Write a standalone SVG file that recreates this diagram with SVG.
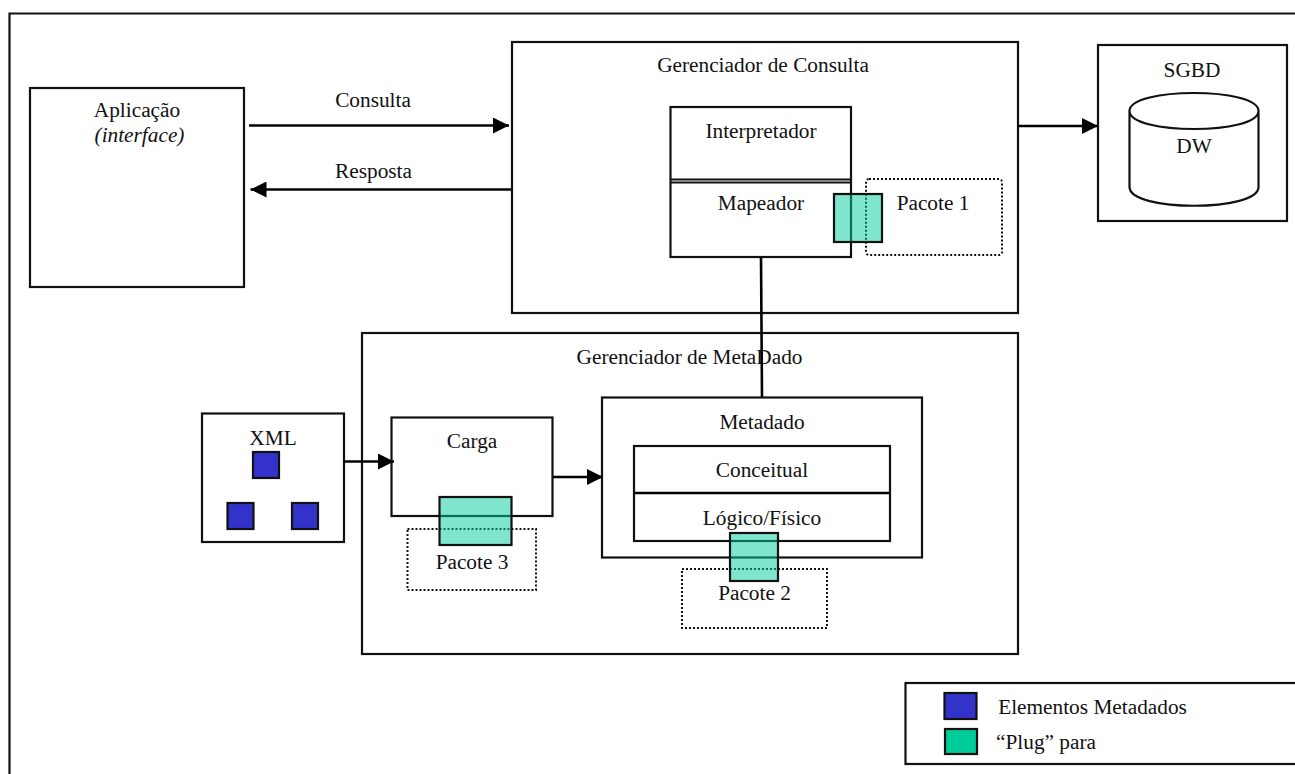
<svg xmlns="http://www.w3.org/2000/svg" width="1295" height="774" viewBox="0 0 1295 774">
<style>
text{font-family:"Liberation Serif","Times New Roman",serif;font-size:21.3px;fill:#111;text-anchor:middle}
.b{fill:#fff;stroke:#111;stroke-width:2.2}
.n{fill:none;stroke:#111;stroke-width:2.2}
.d{fill:none;stroke:#111;stroke-width:2;stroke-dasharray:2 2}
.p{fill:#00cc99;fill-opacity:.5;stroke:#111;stroke-width:2.2}
.s{fill:#3333cc;stroke:#111;stroke-width:2.2}
.c{fill:none;stroke:#000;stroke-width:2.6}
</style>
<defs>
<marker id="a" markerUnits="userSpaceOnUse" markerWidth="16" markerHeight="16" refX="16" refY="8" orient="auto"><path d="M0 0L16 8L0 16Z" fill="#000"/></marker>
</defs>
<rect width="1295" height="774" fill="#fff"/>
<path id="frame" class="n" d="M9.500 774V13.500H1295"/>
<g id="consulta"><rect class="b" x="512" y="42" width="506" height="271"/><text x="763" y="72">Gerenciador de Consulta</text></g>
<g id="metadado-mgr"><rect class="b" x="362" y="333" width="656" height="321"/><text x="689.500" y="364">Gerenciador de MetaDado</text></g>
<g id="aplicacao"><rect class="b" x="30" y="88" width="214" height="199"/><text x="137" y="117">Aplicação</text><text x="139.500" y="142" font-style="italic">(interface)</text></g>
<g id="sgbd"><rect class="b" x="1098" y="45" width="189" height="176"/><text x="1192" y="77">SGBD</text>
<path class="n" d="M1129.500 111C1129.500 87 1258.500 87 1258.500 111V187C1258.500 212 1129.500 212 1129.500 187ZM1129.500 111C1129.500 135 1258.500 135 1258.500 111"/><text x="1194" y="153">DW</text></g>
<g id="mapeador"><rect class="b" x="670.500" y="107" width="180.500" height="150"/><path class="n" d="M670.500 179.500H851M670.500 182.500H851"/><text x="761" y="138">Interpretador</text><text x="761" y="210">Mapeador</text></g>
<g id="pacote1"><rect class="d" x="866" y="179" width="136" height="76" rx="3"/><text x="933" y="210">Pacote 1</text></g>
<g id="carga"><rect class="b" x="391.500" y="417.500" width="161" height="98.500"/><text x="472" y="448">Carga</text></g>
<g id="pacote3"><rect class="d" x="407.500" y="529" width="128.500" height="61"/><text x="472" y="569">Pacote 3</text></g>
<g id="metadado"><rect class="b" x="602" y="397.500" width="320" height="160"/><text x="762" y="429">Metadado</text><rect class="b" x="634" y="446" width="256" height="95"/><path d="M634 493H890" class="c"/><text x="762" y="477">Conceitual</text><text x="762" y="525">Lógico/Físico</text></g>
<g id="pacote2"><rect class="d" x="682" y="569" width="145" height="59"/><text x="754.500" y="600">Pacote 2</text></g>
<g id="xml"><rect class="b" x="202" y="413.500" width="142" height="128.500"/><text x="273" y="445">XML</text><rect class="s" x="253" y="452" width="26" height="26"/><rect class="s" x="227.500" y="503" width="26" height="26"/><rect class="s" x="292" y="503" width="26" height="26"/></g>
<g id="connectors">
<path class="c" marker-end="url(#a)" d="M249 125.500H509"/>
<path class="c" marker-end="url(#a)" d="M511 189.500H250.500"/>
<path class="c" marker-end="url(#a)" d="M1018 126H1098"/>
<path class="c" marker-end="url(#a)" d="M344 461.500H394"/>
<path class="c" marker-end="url(#a)" d="M553 477H603"/>
<path class="c" stroke-width="2" d="M761 257L762 397"/>
<text x="373" y="107">Consulta</text><text x="373.500" y="178">Resposta</text>
</g>
<g id="plugs"><rect class="p" x="834" y="194" width="48" height="48"/><rect class="p" x="439.500" y="497" width="72" height="48"/><rect class="p" x="730" y="533" width="48" height="48"/></g>
<g id="legenda"><rect class="b" x="905.500" y="683" width="391" height="81"/><rect class="s" x="944.500" y="693" width="32" height="26"/><rect fill="#00cc99" stroke="#111" stroke-width="2.200" x="945" y="729" width="32" height="25"/>
<text x="1092.500" y="714">Elementos Metadados</text><text x="1046" y="749">“Plug” para</text></g>
</svg>
